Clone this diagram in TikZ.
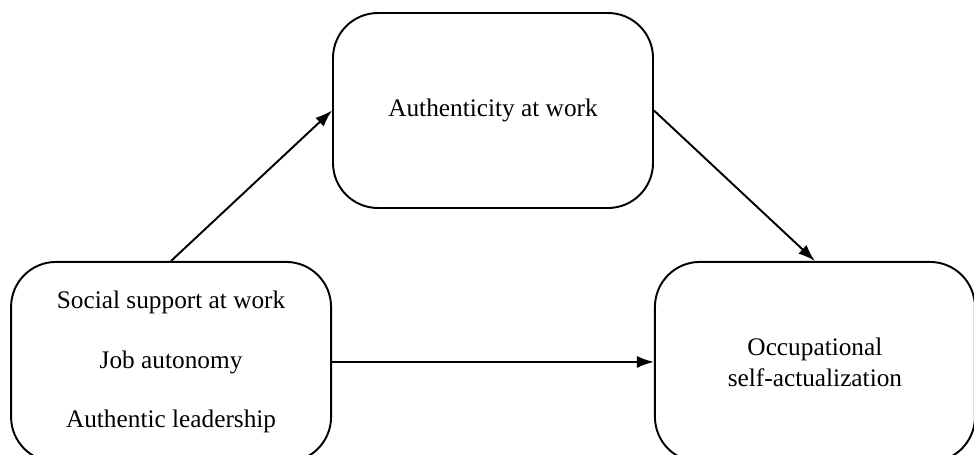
\documentclass[tikz,border=0pt]{standalone}
\usepackage{fontspec}
\setmainfont{Liberation Serif}
\usetikzlibrary{arrows.meta, positioning}

\begin{document}
\begin{tikzpicture}[
      >={Latex[length=3.4mm, width=2.4mm]},
      every node/.append style={font=\fontsize{14.4}{17.6}\selectfont},
      box/.style={rectangle, rounded corners=0.9cm, draw, line width=1.1pt,
                  minimum width=6.4cm, minimum height=3.9cm, inner sep=0pt,
                  align=center},
      lbox/.style={box, minimum height=4cm},
      link/.style={->, line width=1.1pt},
    ]
      \useasboundingbox (0,0) rectangle (19.48,-9.10);

      \node[box] (AW) at (9.86,-2.21) {Authenticity at work};
      \node[lbox, below left=1.04cm and 0cm of AW.south west] (RES)
           {Social support at work\\[16pt] Job autonomy\\[16pt] Authentic leadership};
      \node[lbox, below right=1.04cm and 0cm of AW.south east] (OSA)
           {Occupational\\ self-actualization};

      \draw[link] (RES.north) -- (AW.west);
      \draw[link] (AW.east) -- (OSA.north);
      \draw[link] (RES.east) -- (OSA.west);
    \end{tikzpicture}
\end{document}
